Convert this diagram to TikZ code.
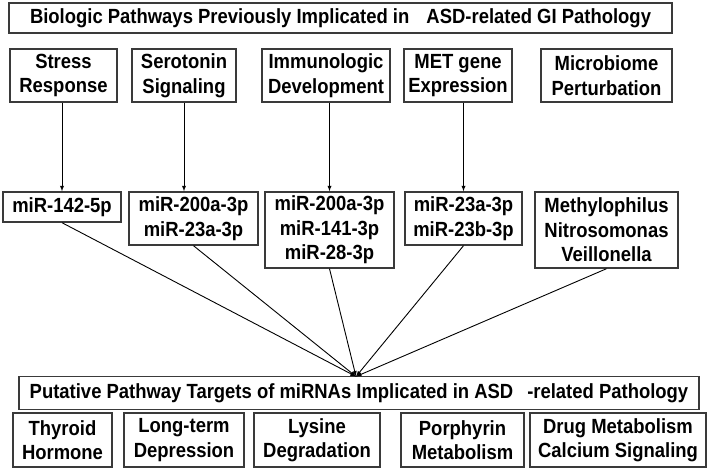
\documentclass[tikz,border=0pt]{standalone}
\usepackage{fontspec}
\setmainfont{Liberation Sans}[FakeStretch=0.9]
\usetikzlibrary{arrows}
\definecolor{boxgray}{HTML}{3A3A3A}

\begin{document}
\begin{tikzpicture}[>=latex,x=1pt,y=-1pt,
  box/.style={draw=boxgray,line width=1.4pt,align=center,inner sep=0pt,
    font=\bfseries\fontsize{20.5}{24.5}\selectfont},
  link/.style={->,line width=0.9pt,black}]
\fill[white] (0,0) rectangle (708,469);
\useasboundingbox (0,0) rectangle (708,469);

\node (head) at (340.5,18) [box,minimum width=663pt,minimum height=30pt]
  {Biologic Pathways Previously Implicated in\hspace{12pt} ASD-related GI Pathology};

\node (stress) at (63.5,75.5) [box,minimum width=107pt,minimum height=53pt] {Stress\\Response};
\node (sero) at (184,75.5) [box,minimum width=104pt,minimum height=53pt] {Serotonin\\Signaling};
\node (immuno) at (326,75.5) [box,minimum width=128pt,minimum height=53pt] {Immunologic\\Development};
\node (met) at (458,75.5) [box,minimum width=108pt,minimum height=53pt] {MET gene\\Expression};
\node (micro) at (606.5,75.5) [box,minimum width=131pt,minimum height=53pt] {Microbiome\\Perturbation};

\node (mira) at (62,207) [box,minimum width=118pt,minimum height=30pt] {miR-142-5p};
\node (mirb) at (193.5,218.5) [box,minimum width=129pt,minimum height=53pt] {miR-200a-3p\\miR-23a-3p};
\node (mirc) at (329.5,230) [box,minimum width=129pt,minimum height=76pt] {miR-200a-3p\\miR-141-3p\\miR-28-3p};
\node (mird) at (463.5,218.5) [box,minimum width=117pt,minimum height=53pt] {miR-23a-3p\\miR-23b-3p};
\node (bact) at (606.5,230) [box,minimum width=143pt,minimum height=76pt] {Methylophilus\\Nitrosomonas\\Veillonella};

\draw[link] (stress.south -| mira.north) -- (mira.north);
\draw[link] (sero.south) -- (sero.south |- mirb.north);
\draw[link] (immuno.south -| mirc.north) -- (mirc.north);
\draw[link] (met.south -| mird.north) -- (mird.north);

\node (target) at (359,393) [box,minimum width=680pt,minimum height=33pt]
  {Putative Pathway Targets of miRNAs Implicated in ASD\hspace{14pt}-related Pathology};
\coordinate (hub) at (356,376.5);

\foreach \n in {mira,mirb,mirc,mird,bact}
  \draw[link] (\n.south) -- (hub);

\node (thyroid) at (62.5,440) [box,minimum width=99pt,minimum height=54pt] {Thyroid\\Hormone};
\node (ltd) at (184,440) [box,minimum width=120pt,minimum height=54pt] {Long-term\\Depression};
\node (lysine) at (317,440) [box,minimum width=126pt,minimum height=54pt] {Lysine\\Degradation};
\node (porph) at (462.5,440) [box,minimum width=123pt,minimum height=54pt] {Porphyrin\\Metabolism};
\node (drug) at (618,440) [box,minimum width=176pt,minimum height=54pt] {Drug Metabolism\\Calcium Signaling};
\end{tikzpicture}
\end{document}
